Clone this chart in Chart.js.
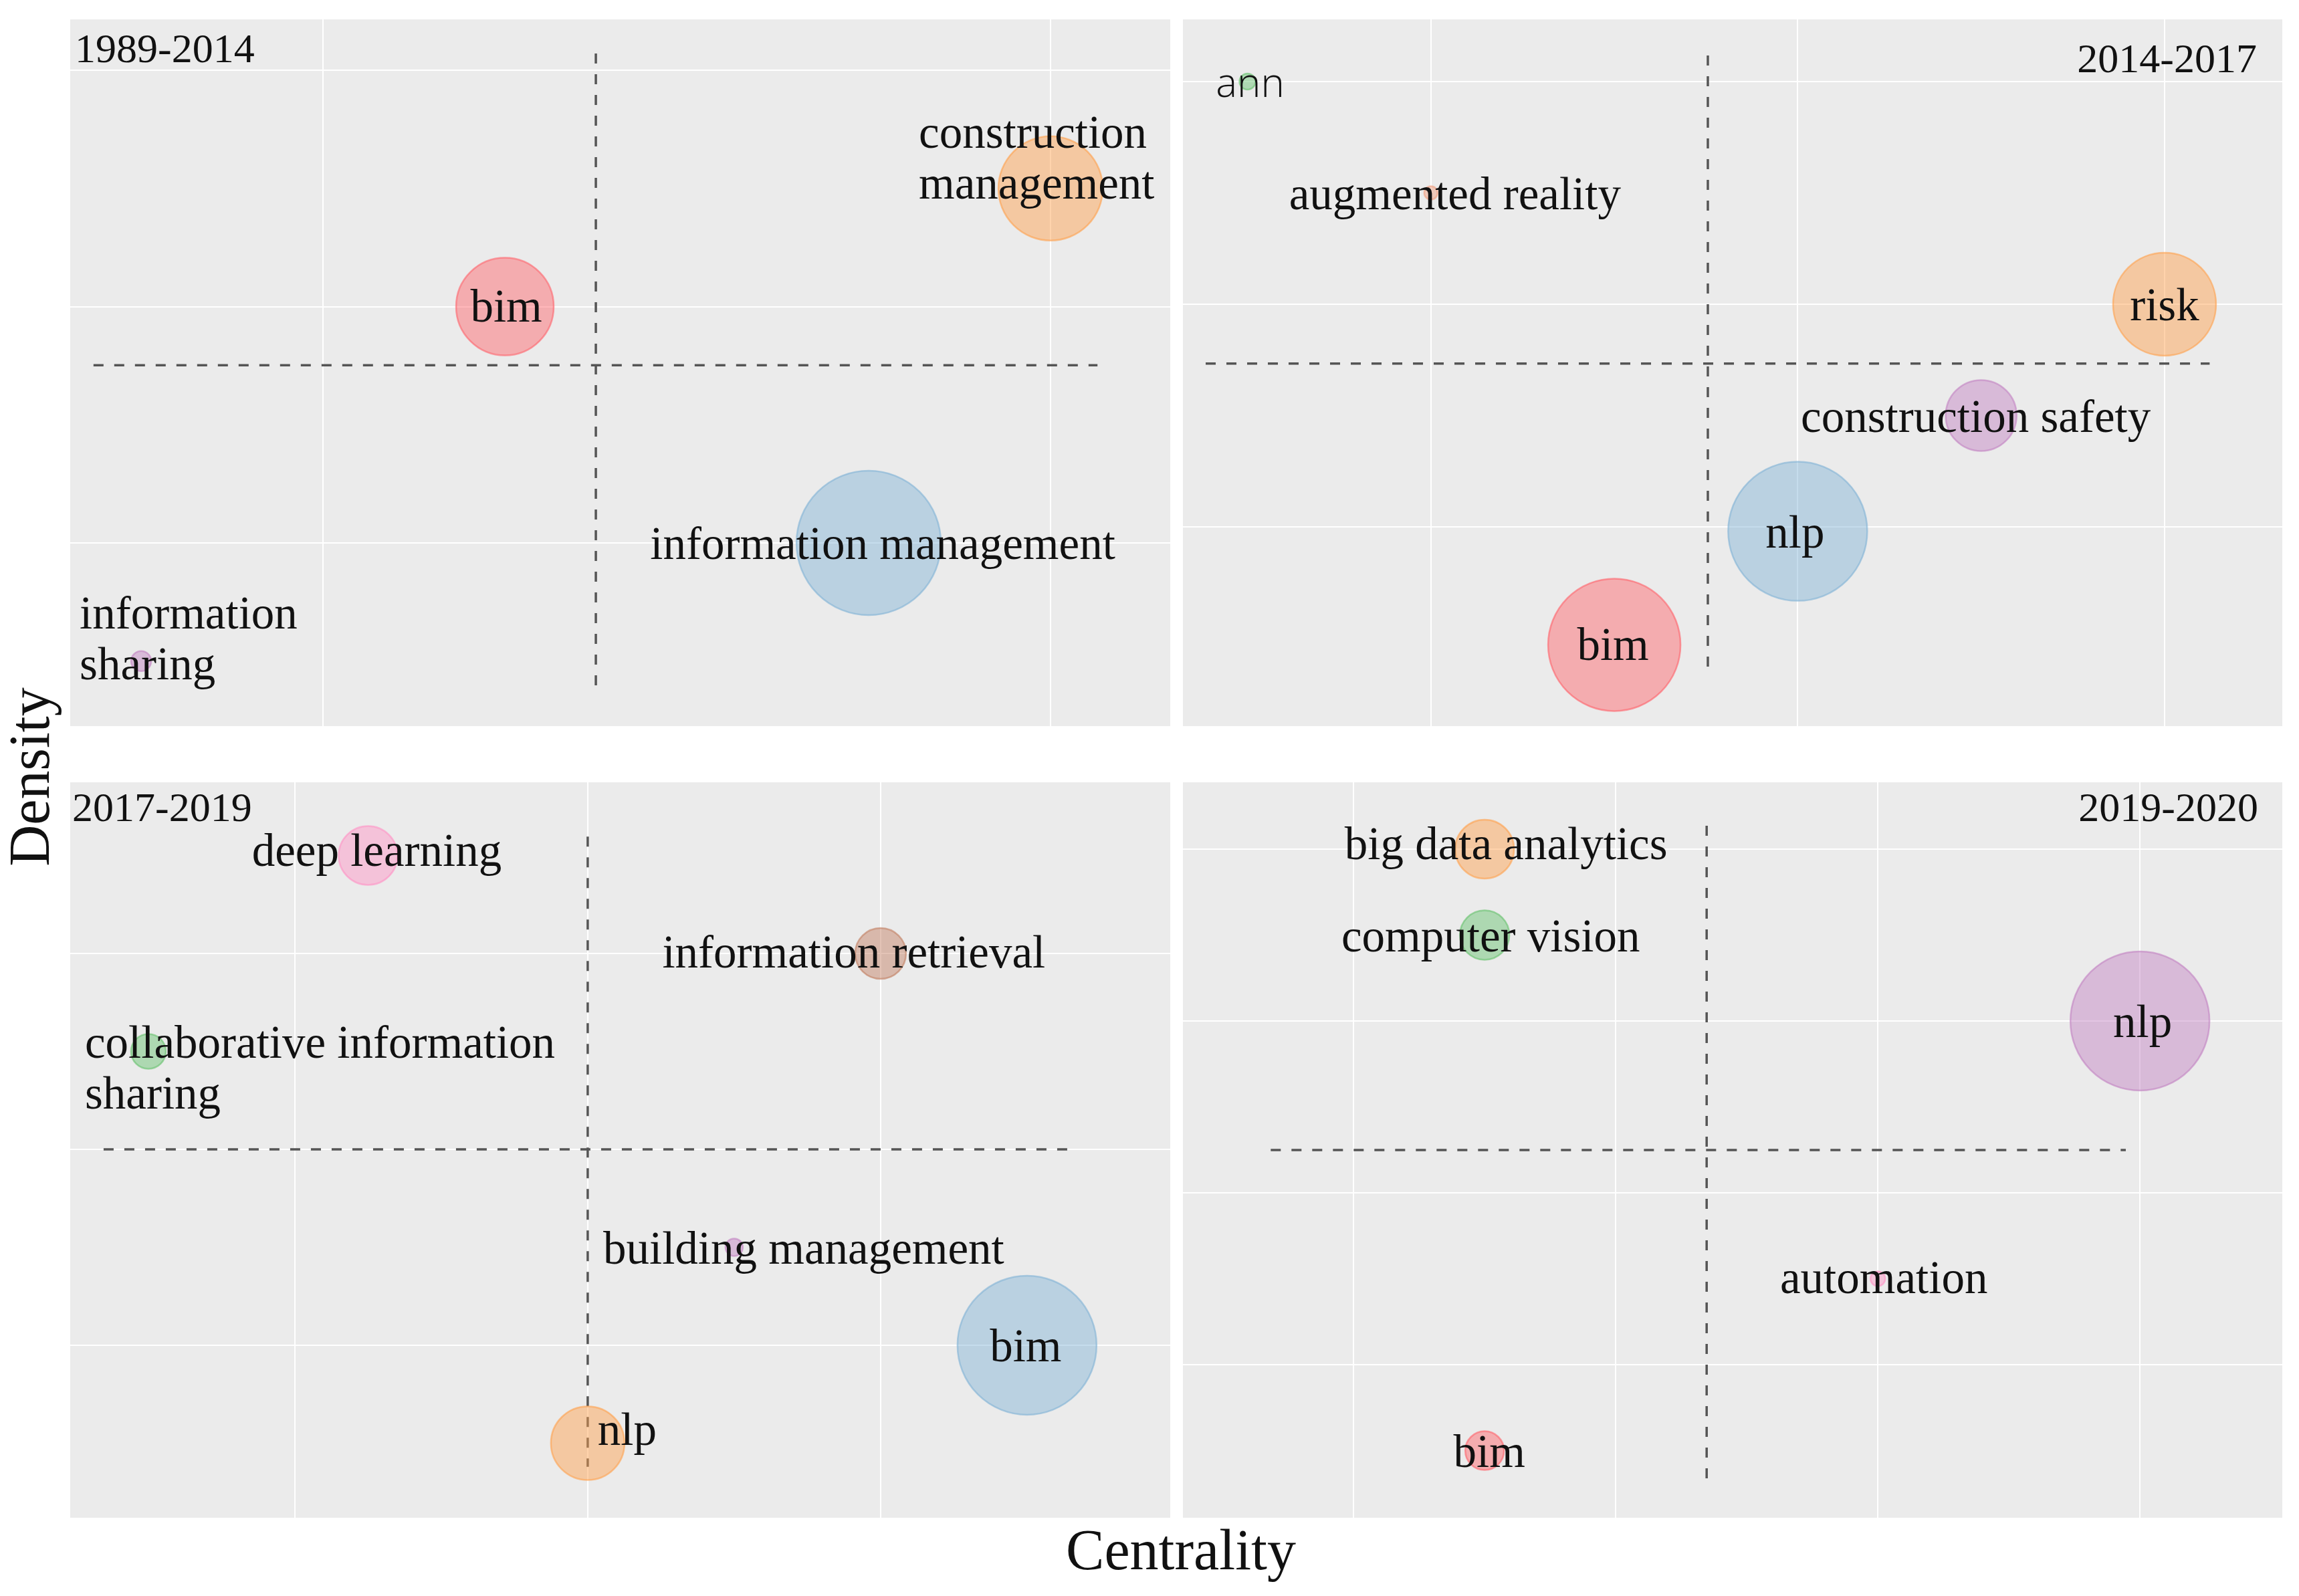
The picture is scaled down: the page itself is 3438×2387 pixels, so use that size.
<!DOCTYPE html>
<html>
<head>
<meta charset="utf-8">
<title>Thematic maps by period</title>
<script src="https://cdn.jsdelivr.net/npm/chart.js@4.4.1/dist/chart.umd.min.js"></script>
<style>
  html, body { margin: 0; padding: 0; background: #fff; }
  #page { position: relative; width: 3438px; height: 2387px; overflow: hidden; background: #fff; }
  .panel { position: absolute; }
  .axis-title {
    position: absolute;
    font-family: "Liberation Serif", "DejaVu Serif", serif;
    font-size: 86px;
    color: #111;
    white-space: nowrap;
    transform: translate(-50%, -50%);
  }
  #yTitle { left: 44px; top: 1162px; transform: translate(-50%, -50%) rotate(-90deg); }
  #xTitle { left: 1766px; top: 2318px; }
</style>
</head>
<body>
<div id="page">
  <div class="panel" style="left:105px;top:29px"><canvas id="p1" width="1645" height="1057"></canvas></div>
  <div class="panel" style="left:1769px;top:29px"><canvas id="p2" width="1644" height="1057"></canvas></div>
  <div class="panel" style="left:105px;top:1170px"><canvas id="p3" width="1645" height="1100"></canvas></div>
  <div class="panel" style="left:1769px;top:1170px"><canvas id="p4" width="1644" height="1100"></canvas></div>
  <div class="axis-title" id="yTitle">Density</div>
  <div class="axis-title" id="xTitle">Centrality</div>
</div>

<script>
// ---- Data (relative units) ----

// 1989-2014
const terms1 = ['bim', 'construction\nmanagement', 'information management', 'information\nsharing'];
const centrality1 = [1.5, 3.0, 2.5, 0.5];
const density1 = [2.0, 2.5, 1.0, 0.5];
const size1 = [73, 78, 108, 15];
const gridX1 = [1, 3];
const gridY1 = [1, 2, 3];
const rangeX1 = [0.305, 3.329];
const rangeY1 = [0.225, 3.215];
const split1 = [1.75, 1.752];
const spanX1 = [0.369, 3.129];
const spanY1 = [0.377, 3.071];

// 2014-2017
const terms2 = ['ann', 'augmented reality', 'risk', 'construction safety', 'nlp', 'bim'];
const centrality2 = [1.5, 2.0, 4.0, 3.5, 3.0, 2.5];
const density2 = [3.0, 2.5, 2.0, 1.5, 0.98, 0.47];
const size2 = [12, 10, 77, 53, 104, 99];
const gridX2 = [2, 3, 4];
const gridY2 = [1, 2, 3];
const rangeX2 = [1.324, 4.321];
const rangeY2 = [0.105, 3.279];
const split2 = [2.755, 1.733];
const spanX2 = [1.386, 4.123];
const spanY2 = [0.336, 3.117];

// 2017-2019
const terms3 = ['deep learning', 'information retrieval', 'collaborative information\nsharing', 'building management', 'bim', 'nlp'];
const centrality3 = [1.25, 3.0, 0.5, 2.5, 3.5, 2.0];
const density3 = [3.5, 3.0, 2.5, 1.5, 1.0, 0.5];
const size3 = [44, 38, 26, 13, 104, 55];
const gridX3 = [1, 2, 3];
const gridY3 = [1, 2, 3];
const rangeX3 = [0.233, 3.989];
const rangeY3 = [0.119, 3.874];
const split3 = [2.0, 2.0];
const spanX3 = [0.347, 3.666];
const spanY3 = [0.379, 3.597];

// 2019-2020
const terms4 = ['big data analytics', 'computer vision', 'nlp', 'automation', 'bim'];
const centrality4 = [1.5, 1.5, 4.0, 3.0, 1.5];
const density4 = [4.0, 3.5, 3.0, 1.5, 0.5];
const size4 = [44, 37, 104, 11, 29];
const gridX4 = [1, 2, 3, 4];
const gridY4 = [1, 2, 3, 4];
const rangeX4 = [0.349, 4.543];
const rangeY4 = [0.109, 4.389];
const split4 = [2.347, 2.249];
const spanX4 = [0.684, 3.946];
const spanY4 = [0.319, 4.136];

const periods = ['1989-2014', '2014-2017', '2017-2019', '2019-2020'];

// ---- Styles ----
const PALETTE = {
  red: [255, 97, 105],
  orange: [255, 160, 75],
  blue: [129, 179, 213],
  purple: [193, 129, 193],
  green: [101, 193, 109],
  pink: [255, 145, 197],
  brown: [193, 125, 95],
  salmon: [241, 157, 125]
};
const rgba = (c, a) => `rgba(${c[0]},${c[1]},${c[2]},${a})`;

const SERIF = '"Liberation Serif", "DejaVu Serif", serif';
const LABEL_SIZE = 69;
const LINE_HEIGHT = 76;
const TEXT_DROP = 6; // 'middle' baseline sits a little high for lowercase text

// label nudges in pixels, relative to the bubble centre
const panelStyles = [
  {
    colors: ['red', 'orange', 'blue', 'purple'],
    nudges: [
      { dx: 2, dy: -2 },
      { dx: -197, dy: -85, align: 'left' },
      { dx: 21, dy: 0 },
      { dx: -92, dy: -73, align: 'left' }
    ],
    title: { x: 7, y: 44, align: 'left' }
  },
  {
    colors: ['green', 'salmon', 'orange', 'purple', 'blue', 'red'],
    nudges: [
      { dx: 4, dy: 0, font: '300 60px "Open Sans", "Noto Sans", sans-serif' },
      { dx: 36, dy: 0 },
      { dx: 0, dy: 0 },
      { dx: -8, dy: 0 },
      { dx: -4, dy: 0 },
      { dx: -2, dy: -2 }
    ],
    title: { x: -38, y: 59, align: 'right' }
  },
  {
    colors: ['pink', 'brown', 'green', 'purple', 'blue', 'orange'],
    nudges: [
      { dx: 13, dy: -9 },
      { dx: -40, dy: -3 },
      { dx: -95, dy: -15, align: 'left' },
      { dx: 104, dy: 0 },
      { dx: -2, dy: 0 },
      { dx: 59, dy: -22 }
    ],
    title: { x: 3, y: 38, align: 'left' }
  },
  {
    colors: ['orange', 'green', 'purple', 'pink', 'red'],
    nudges: [
      { dx: 32, dy: -9 },
      { dx: 9, dy: 0 },
      { dx: 4, dy: 0 },
      { dx: 9, dy: -3 },
      { dx: 7, dy: 0 }
    ],
    title: { x: -36, y: 38, align: 'right' }
  }
];

// Panel background
const panelBackground = {
  id: 'panelBackground',
  beforeDraw(chart) {
    const { ctx, chartArea: a } = chart;
    ctx.save();
    ctx.fillStyle = '#EBEBEB';
    ctx.fillRect(a.left, a.top, a.right - a.left, a.bottom - a.top);
    ctx.restore();
  }
};

// Quadrant split lines (dashed)
const quadrantLines = {
  id: 'quadrantLines',
  beforeDatasetsDraw(chart, args, opts) {
    const { ctx, scales: { x, y } } = chart;
    ctx.save();
    ctx.strokeStyle = '#555';
    ctx.lineWidth = 3.5;
    ctx.setLineDash([15, 16]);
    const sx = x.getPixelForValue(opts.split[0]);
    const sy = y.getPixelForValue(opts.split[1]);
    ctx.beginPath();
    ctx.moveTo(sx, y.getPixelForValue(opts.spanY[1]));
    ctx.lineTo(sx, y.getPixelForValue(opts.spanY[0]));
    ctx.stroke();
    ctx.beginPath();
    ctx.moveTo(x.getPixelForValue(opts.spanX[0]), sy);
    ctx.lineTo(x.getPixelForValue(opts.spanX[1]), sy);
    ctx.stroke();
    ctx.restore();
  }
};

// Term labels and period title
const termLabels = {
  id: 'termLabels',
  afterDatasetsDraw(chart, args, opts) {
    const { ctx, chartArea: a } = chart;
    const meta = chart.getDatasetMeta(0);
    ctx.save();
    ctx.fillStyle = '#111';
    ctx.textBaseline = 'middle';
    opts.terms.forEach((term, i) => {
      const pt = meta.data[i];
      const n = opts.nudges[i] || { dx: 0, dy: 0 };
      ctx.font = n.font || `${LABEL_SIZE}px ${SERIF}`;
      ctx.textAlign = n.align || 'center';
      term.split('\n').forEach((line, j) => {
        ctx.fillText(line, pt.x + n.dx, pt.y + n.dy + TEXT_DROP + j * LINE_HEIGHT);
      });
    });
    // period title
    const t = opts.title;
    ctx.font = `62px ${SERIF}`;
    ctx.textAlign = t.align;
    const tx = t.align === 'left' ? a.left + t.x : a.right + t.x;
    ctx.fillText(opts.period, tx, a.top + t.y + 4);
    ctx.restore();
  }
};

function makePanel(canvasId, idx, terms, cx, dy, sizes, gx, gy, rx, ry, split, spanX, spanY) {
  const style = panelStyles[idx];
  const gridOpts = { color: '#FFFFFF', lineWidth: 2, drawTicks: false };
  new Chart(document.getElementById(canvasId), {
    type: 'bubble',
    data: {
      datasets: [{
        data: cx.map((v, i) => ({ x: v, y: dy[i], r: sizes[i] })),
        backgroundColor: style.colors.map(c => rgba(PALETTE[c], 0.46)),
        borderColor: style.colors.map(c => rgba(PALETTE[c], 0.6)),
        borderWidth: 2.5,
        hoverRadius: 0,
        clip: 0
      }]
    },
    options: {
      responsive: false,
      animation: false,
      events: [],
      layout: { padding: 0, autoPadding: false },
      plugins: {
        legend: { display: false },
        tooltip: { enabled: false },
        quadrantLines: { split, spanX, spanY },
        termLabels: { terms, nudges: style.nudges, title: style.title, period: periods[idx] }
      },
      scales: {
        x: {
          type: 'linear', min: rx[0], max: rx[1],
          grid: gridOpts, border: { display: false },
          ticks: { display: false },
          afterBuildTicks: s => { s.ticks = gx.map(v => ({ value: v })); }
        },
        y: {
          type: 'linear', min: ry[0], max: ry[1],
          grid: gridOpts, border: { display: false },
          ticks: { display: false },
          afterBuildTicks: s => { s.ticks = gy.map(v => ({ value: v })); }
        }
      }
    },
    plugins: [panelBackground, quadrantLines, termLabels]
  });
}

makePanel('p1', 0, terms1, centrality1, density1, size1, gridX1, gridY1, rangeX1, rangeY1, split1, spanX1, spanY1);
makePanel('p2', 1, terms2, centrality2, density2, size2, gridX2, gridY2, rangeX2, rangeY2, split2, spanX2, spanY2);
makePanel('p3', 2, terms3, centrality3, density3, size3, gridX3, gridY3, rangeX3, rangeY3, split3, spanX3, spanY3);
makePanel('p4', 3, terms4, centrality4, density4, size4, gridX4, gridY4, rangeX4, rangeY4, split4, spanX4, spanY4);
</script>
</body>
</html>
